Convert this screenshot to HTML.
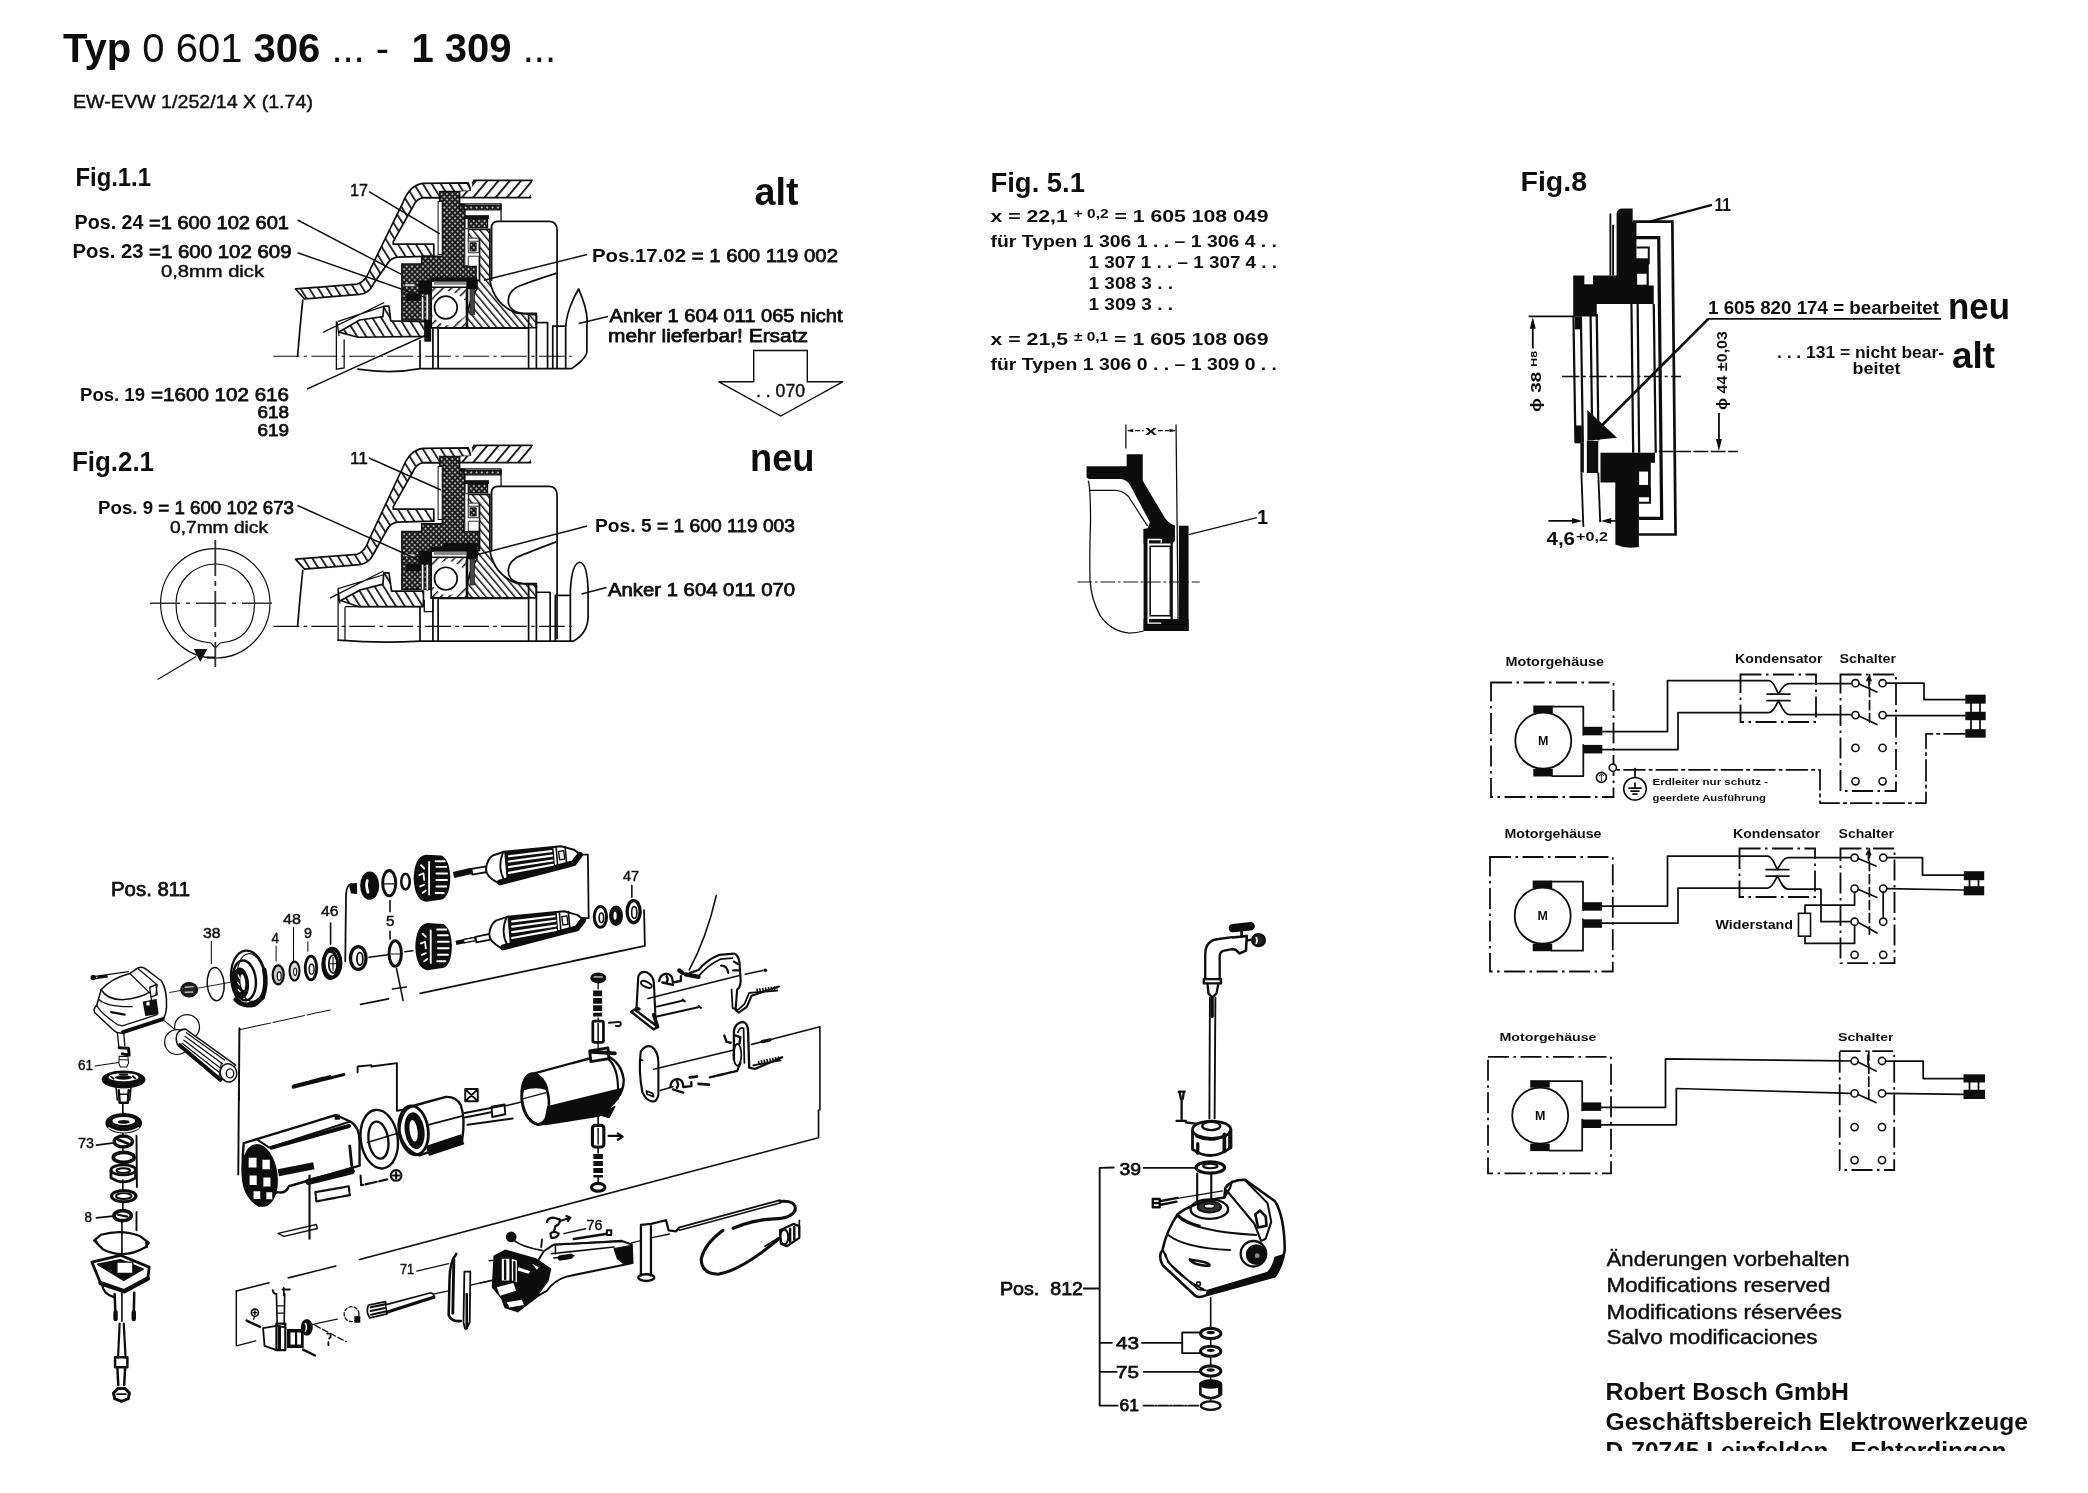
<!DOCTYPE html>
<html><head><meta charset="utf-8"><title>Typ 0 601 306</title>
<style>
html,body{margin:0;padding:0;background:#fff;}
body{width:2088px;height:1493px;overflow:hidden;font-family:"Liberation Sans",sans-serif;}
svg{display:block;position:absolute;left:0;top:0;}
text{font-family:"Liberation Sans",sans-serif;fill:#111;}
.b{font-weight:bold;}
.m{stroke:#111;stroke-width:0.45;}
.n{font-weight:normal;stroke:#111;stroke-width:0.75;}
.l{fill:none;stroke:#111;stroke-width:1.75;stroke-linecap:round;stroke-linejoin:round;}
.t{fill:none;stroke:#111;stroke-width:0.9;}
.k{fill:#111;stroke:none;}
.w{fill:#fff;stroke:#111;stroke-width:1.6;}
.dd{fill:none;stroke:#111;stroke-width:1.8;stroke-dasharray:21 4.5 2.5 4.5;}
</style></head><body>
<svg width="2088" height="1493" viewBox="0 0 2088 1493">
<defs>
<filter id="soft" x="0" y="0" width="100%" height="100%"><feGaussianBlur stdDeviation="0.55"/></filter>
<pattern id="hA" width="44" height="44" patternUnits="userSpaceOnUse" patternTransform="rotate(-32)"><rect width="44" height="44" fill="#fff"/><line x1="5" y1="0" x2="5" y2="44" stroke="#111" stroke-width="10"/></pattern>
<pattern id="hB" width="50" height="50" patternUnits="userSpaceOnUse" patternTransform="rotate(40)"><rect width="50" height="50" fill="#fff"/><line x1="5" y1="0" x2="5" y2="50" stroke="#111" stroke-width="11"/></pattern>
<pattern id="hC" width="32" height="32" patternUnits="userSpaceOnUse" patternTransform="rotate(-40)"><rect width="32" height="32" fill="#fff"/><line x1="4" y1="0" x2="4" y2="32" stroke="#111" stroke-width="9"/></pattern>
<pattern id="hD" width="34" height="34" patternUnits="userSpaceOnUse" patternTransform="rotate(45)"><rect width="34" height="34" fill="#fff"/><line x1="4" y1="0" x2="4" y2="34" stroke="#111" stroke-width="9"/></pattern>
<pattern id="xz" width="22" height="22" patternUnits="userSpaceOnUse" patternTransform="rotate(45)"><rect width="22" height="22" fill="#1a1a1a"/><rect x="5" y="5" width="11" height="11" rx="3" fill="#c8c8c8"/></pattern>

</defs>
<g filter="url(#soft)">
<g id="text">
<text x="63" y="62" font-size="40" textLength="493" lengthAdjust="spacingAndGlyphs" xml:space="preserve"><tspan class="b">Typ</tspan> 0 601 <tspan class="b">306</tspan> ... -  <tspan class="b">1 309</tspan> ...</text>
<text x="73" y="107.8" font-size="18.5" class="m" textLength="240.0" lengthAdjust="spacingAndGlyphs" xml:space="preserve">EW-EVW 1/252/14 X (1.74)</text>
<text x="75.5" y="185.5" font-size="26" class="b" textLength="75.5" lengthAdjust="spacingAndGlyphs" xml:space="preserve">Fig.1.1</text>
<text x="74.5" y="229" font-size="20" class="b" textLength="69.0" lengthAdjust="spacingAndGlyphs" xml:space="preserve">Pos. 24</text>
<text x="149" y="229" font-size="18" class="n" textLength="140.0" lengthAdjust="spacingAndGlyphs" xml:space="preserve">=1 600 102 601</text>
<text x="72.5" y="258" font-size="20" class="b" textLength="71.0" lengthAdjust="spacingAndGlyphs" xml:space="preserve">Pos. 23</text>
<text x="149" y="258" font-size="18" class="n" textLength="142.5" lengthAdjust="spacingAndGlyphs" xml:space="preserve">=1 600 102 609</text>
<text x="161" y="277" font-size="17" class="m" textLength="103.0" lengthAdjust="spacingAndGlyphs" xml:space="preserve">0,8mm dick</text>
<text x="80" y="401" font-size="19" class="b" textLength="65.0" lengthAdjust="spacingAndGlyphs" xml:space="preserve">Pos. 19</text>
<text x="151" y="401" font-size="18" class="n" textLength="138.0" lengthAdjust="spacingAndGlyphs" xml:space="preserve">=1600 102 616</text>
<text x="257.5" y="418" font-size="17" class="n" textLength="31.5" lengthAdjust="spacingAndGlyphs" xml:space="preserve">618</text>
<text x="257.5" y="435.5" font-size="17" class="n" textLength="31.5" lengthAdjust="spacingAndGlyphs" xml:space="preserve">619</text>
<text x="72" y="471" font-size="27" class="b" textLength="82.0" lengthAdjust="spacingAndGlyphs" xml:space="preserve">Fig.2.1</text>
<text x="350" y="196" font-size="16" class="m" textLength="18.0" lengthAdjust="spacingAndGlyphs" xml:space="preserve">17</text>
<text x="350" y="464" font-size="16" class="m" textLength="18.0" lengthAdjust="spacingAndGlyphs" xml:space="preserve">11</text>
<text x="754.5" y="205" font-size="38" class="b" textLength="44.0" lengthAdjust="spacingAndGlyphs" xml:space="preserve">alt</text>
<text x="750" y="470.5" font-size="38" class="b" textLength="64.5" lengthAdjust="spacingAndGlyphs" xml:space="preserve">neu</text>
<text x="592" y="262" font-size="19" class="b" textLength="246.0" lengthAdjust="spacingAndGlyphs" xml:space="preserve">Pos.17.02 <tspan class="n">= 1 600 119 002</tspan></text>
<text x="609.5" y="322" font-size="18" class="n" textLength="233.0" lengthAdjust="spacingAndGlyphs" xml:space="preserve">Anker 1 604 011 065 nicht</text>
<text x="608" y="342" font-size="18" class="n" textLength="200.0" lengthAdjust="spacingAndGlyphs" xml:space="preserve">mehr lieferbar! Ersatz</text>
<text x="756" y="397" font-size="18" class="m" textLength="49.0" lengthAdjust="spacingAndGlyphs" xml:space="preserve">. . 070</text>
<text x="98" y="513.5" font-size="18" class="b" textLength="196.0" lengthAdjust="spacingAndGlyphs" xml:space="preserve">Pos. 9 <tspan class="n">= 1 600 102 673</tspan></text>
<text x="170" y="533" font-size="17" class="m" textLength="98.0" lengthAdjust="spacingAndGlyphs" xml:space="preserve">0,7mm dick</text>
<text x="595" y="532" font-size="19" class="b" textLength="200.0" lengthAdjust="spacingAndGlyphs" xml:space="preserve">Pos. 5 <tspan class="n">= 1 600 119 003</tspan></text>
<text x="608" y="596" font-size="18" class="n" textLength="187.0" lengthAdjust="spacingAndGlyphs" xml:space="preserve">Anker 1 604 011 070</text>
<text x="990.5" y="191.5" font-size="27" class="b" textLength="94.5" lengthAdjust="spacingAndGlyphs" xml:space="preserve">Fig. 5.1</text>
<text x="990.5" y="221.5" font-size="16.5" class="b" textLength="278.0" lengthAdjust="spacingAndGlyphs" xml:space="preserve">x = 22,1 <tspan font-size="12" dy="-4">+ 0,2</tspan><tspan dy="4"> = 1 605 108 049</tspan></text>
<text x="990.5" y="247" font-size="16.5" class="b" textLength="286.5" lengthAdjust="spacingAndGlyphs" xml:space="preserve">für Typen 1 306 1 . . – 1 306 4 . .</text>
<text x="1088.5" y="268" font-size="16.5" class="b" textLength="188.5" lengthAdjust="spacingAndGlyphs" xml:space="preserve">1 307 1 . . – 1 307 4 . .</text>
<text x="1088.5" y="289" font-size="16.5" class="b" textLength="84.5" lengthAdjust="spacingAndGlyphs" xml:space="preserve">1 308 3 . .</text>
<text x="1088.5" y="309.5" font-size="16.5" class="b" textLength="84.5" lengthAdjust="spacingAndGlyphs" xml:space="preserve">1 309 3 . .</text>
<text x="990.5" y="344.5" font-size="16.5" class="b" textLength="278.0" lengthAdjust="spacingAndGlyphs" xml:space="preserve">x = 21,5 <tspan font-size="12" dy="-4">± 0,1</tspan><tspan dy="4"> = 1 605 108 069</tspan></text>
<text x="990.5" y="369.5" font-size="16.5" class="b" textLength="286.5" lengthAdjust="spacingAndGlyphs" xml:space="preserve">für Typen 1 306 0 . . – 1 309 0 . .</text>
<text x="1145" y="435" font-size="13" class="b" textLength="12.0" lengthAdjust="spacingAndGlyphs" xml:space="preserve">x</text>
<text x="1257" y="523.5" font-size="20" class="b" xml:space="preserve">1</text>
<text x="1520.5" y="190.5" font-size="27" class="b" textLength="66.5" lengthAdjust="spacingAndGlyphs" xml:space="preserve">Fig.8</text>
<text x="1714.5" y="210.5" font-size="18" class="b" textLength="16.5" lengthAdjust="spacingAndGlyphs" xml:space="preserve">11</text>
<text x="1708" y="313.5" font-size="17.5" class="b" textLength="231.0" lengthAdjust="spacingAndGlyphs" xml:space="preserve">1 605 820 174 = bearbeitet</text>
<text x="1948" y="319" font-size="37" class="b" textLength="62.0" lengthAdjust="spacingAndGlyphs" xml:space="preserve">neu</text>
<text x="1777" y="357.5" font-size="17" class="b" textLength="167.0" lengthAdjust="spacingAndGlyphs" xml:space="preserve">. . . 131 = nicht bear-</text>
<text x="1852.5" y="374" font-size="17" class="b" textLength="48.0" lengthAdjust="spacingAndGlyphs" xml:space="preserve">beitet</text>
<text x="1952" y="367.5" font-size="37" class="b" textLength="43.0" lengthAdjust="spacingAndGlyphs" xml:space="preserve">alt</text>
<text x="1546.5" y="544.5" font-size="18" class="b" textLength="28.5" lengthAdjust="spacingAndGlyphs" xml:space="preserve">4,6</text>
<text x="1576" y="541" font-size="13" class="b" textLength="32.0" lengthAdjust="spacingAndGlyphs" xml:space="preserve">+0,2</text>
<text x="1505.5" y="666" font-size="12.5" class="b" textLength="98.5" lengthAdjust="spacingAndGlyphs" xml:space="preserve">Motorgehäuse</text>
<text x="1735" y="663" font-size="12.5" class="b" textLength="87.5" lengthAdjust="spacingAndGlyphs" xml:space="preserve">Kondensator</text>
<text x="1839.5" y="663" font-size="12.5" class="b" textLength="56.5" lengthAdjust="spacingAndGlyphs" xml:space="preserve">Schalter</text>
<text x="1652.5" y="785" font-size="8.5" class="b" textLength="115.5" lengthAdjust="spacingAndGlyphs" xml:space="preserve">Erdleiter nur schutz -</text>
<text x="1652.5" y="801" font-size="8.5" class="b" textLength="113.5" lengthAdjust="spacingAndGlyphs" xml:space="preserve">geerdete Ausführung</text>
<text x="1504.5" y="838" font-size="12.5" class="b" textLength="97.0" lengthAdjust="spacingAndGlyphs" xml:space="preserve">Motorgehäuse</text>
<text x="1733" y="837.5" font-size="12.5" class="b" textLength="87.0" lengthAdjust="spacingAndGlyphs" xml:space="preserve">Kondensator</text>
<text x="1838.5" y="837.5" font-size="12.5" class="b" textLength="55.5" lengthAdjust="spacingAndGlyphs" xml:space="preserve">Schalter</text>
<text x="1715.5" y="929" font-size="12" class="b" textLength="77.5" lengthAdjust="spacingAndGlyphs" xml:space="preserve">Widerstand</text>
<text x="1499.5" y="1040.5" font-size="11.5" class="b" textLength="97.0" lengthAdjust="spacingAndGlyphs" xml:space="preserve">Motorgehäuse</text>
<text x="1838" y="1040.5" font-size="11.5" class="b" textLength="55.5" lengthAdjust="spacingAndGlyphs" xml:space="preserve">Schalter</text>
<text x="111" y="895.5" font-size="21" class="n" textLength="79.0" lengthAdjust="spacingAndGlyphs" xml:space="preserve">Pos. 811</text>
<text x="203" y="937.5" font-size="14.5" class="m" textLength="17.5" lengthAdjust="spacingAndGlyphs" xml:space="preserve">38</text>
<text x="271.5" y="943" font-size="14.5" class="m" textLength="7.5" lengthAdjust="spacingAndGlyphs" xml:space="preserve">4</text>
<text x="283" y="923.5" font-size="14.5" class="m" textLength="18.0" lengthAdjust="spacingAndGlyphs" xml:space="preserve">48</text>
<text x="304" y="938" font-size="14.5" class="m" textLength="8.0" lengthAdjust="spacingAndGlyphs" xml:space="preserve">9</text>
<text x="321" y="916" font-size="14.5" class="m" textLength="17.5" lengthAdjust="spacingAndGlyphs" xml:space="preserve">46</text>
<text x="386" y="926" font-size="14.5" class="m" textLength="8.5" lengthAdjust="spacingAndGlyphs" xml:space="preserve">5</text>
<text x="78" y="1069.5" font-size="14.5" class="m" textLength="15.0" lengthAdjust="spacingAndGlyphs" xml:space="preserve">61</text>
<text x="78" y="1148" font-size="14.5" class="m" textLength="16.0" lengthAdjust="spacingAndGlyphs" xml:space="preserve">73</text>
<text x="84.5" y="1222" font-size="14.5" class="m" textLength="7.5" lengthAdjust="spacingAndGlyphs" xml:space="preserve">8</text>
<text x="400" y="1274" font-size="14.5" class="m" textLength="14.0" lengthAdjust="spacingAndGlyphs" xml:space="preserve">71</text>
<text x="623" y="881" font-size="14.5" class="m" textLength="16.0" lengthAdjust="spacingAndGlyphs" xml:space="preserve">47</text>
<text x="586.5" y="1229.5" font-size="14.5" class="m" textLength="16.0" lengthAdjust="spacingAndGlyphs" xml:space="preserve">76</text>
<text x="1000" y="1294.5" font-size="19" class="n" textLength="83.0" lengthAdjust="spacingAndGlyphs" xml:space="preserve">Pos.  812</text>
<text x="1119.5" y="1175" font-size="17" class="n" textLength="21.5" lengthAdjust="spacingAndGlyphs" xml:space="preserve">39</text>
<text x="1116" y="1348.5" font-size="17" class="n" textLength="23.0" lengthAdjust="spacingAndGlyphs" xml:space="preserve">43</text>
<text x="1116" y="1377.5" font-size="17" class="n" textLength="23.0" lengthAdjust="spacingAndGlyphs" xml:space="preserve">75</text>
<text x="1119.5" y="1411" font-size="17" class="n" textLength="19.5" lengthAdjust="spacingAndGlyphs" xml:space="preserve">61</text>
<text x="1606.5" y="1266" font-size="20.5" class="m" textLength="243.0" lengthAdjust="spacingAndGlyphs" xml:space="preserve">Änderungen vorbehalten</text>
<text x="1606.5" y="1291.5" font-size="20.5" class="m" textLength="224.0" lengthAdjust="spacingAndGlyphs" xml:space="preserve">Modifications reserved</text>
<text x="1606.5" y="1318.5" font-size="20.5" class="m" textLength="235.5" lengthAdjust="spacingAndGlyphs" xml:space="preserve">Modifications réservées</text>
<text x="1606.5" y="1344" font-size="20.5" class="m" textLength="211.0" lengthAdjust="spacingAndGlyphs" xml:space="preserve">Salvo modificaciones</text>
<text x="1605.5" y="1399.5" font-size="24" class="b" textLength="243.5" lengthAdjust="spacingAndGlyphs" xml:space="preserve">Robert Bosch GmbH</text>
<text x="1605.5" y="1430" font-size="24" class="b" textLength="422.5" lengthAdjust="spacingAndGlyphs" xml:space="preserve">Geschäftsbereich Elektrowerkzeuge</text>
<clipPath id="cf"><rect x="1590" y="1430" width="480" height="21"/></clipPath>
<g clip-path="url(#cf)"><text x="1605.5" y="1458.5" font-size="24" class="b" textLength="401" lengthAdjust="spacingAndGlyphs">D-70745 Leinfelden - Echterdingen</text></g>
</g>
<g id="fig1">
<g transform="translate(270,170) scale(0.17241)">
<path d="M 1285,335 Q 1285,300 1320,298 H 1620 Q 1665,300 1665,350 V 1150" fill="none" stroke="#111" stroke-width="10" stroke-linejoin="round" stroke-linecap="round"/>
<path d="M 1285,335 V 640" fill="none" stroke="#111" stroke-width="10" stroke-linejoin="round" stroke-linecap="round"/>
<path d="M 1660,600 Q 1500,650 1430,680 Q 1370,720 1385,780 Q 1400,825 1470,832 H 1545" fill="none" stroke="#111" stroke-width="10" stroke-linejoin="round" stroke-linecap="round"/>
<path d="M 148,690 L 505,662 Q 550,650 575,590 L 770,190 Q 810,90 885,78 L 1150,75 L 1165,122 L 1100,125 L 1100,162 L 890,160 Q 850,165 830,210 L 715,415 L 715,430 L 950,430 L 950,500 L 740,505 Q 700,510 680,545 L 600,660 Q 575,715 520,722 L 200,748 Z" fill="url(#hA)" stroke="#111" stroke-width="10" stroke-linejoin="round" stroke-linecap="round"/>
<path d="M 1175,75 L 1185,60 L 1520,60 L 1512,160 L 1100,160 L 1100,125 L 1165,122 Z" fill="url(#hB)" stroke="none"/>
<path d="M 1175,75 L 1185,60 L 1520,60 M 1512,160 L 1100,160" fill="none" stroke="#111" stroke-width="10" stroke-linejoin="round" stroke-linecap="round"/>
<path d="M 190,755 Q 175,900 160,1078" fill="none" stroke="#111" stroke-width="10" stroke-linejoin="round" stroke-linecap="round"/>
<path d="M 985,125 H 1100 V 200 H 1130 V 505 H 1125 V 560 H 1195 V 640 H 935 V 870 H 765 V 545 H 880 V 500 H 1000 V 180 H 985 Z" fill="url(#xz)" stroke="#111" stroke-width="9" stroke-linejoin="miter"/>
<rect x="975" y="182" width="24" height="308" fill="#fff" stroke="#111" stroke-width="6"/>
<path d="M 930,622 H 1200 V 644 H 930 Z" fill="#111" />
<path d="M 862,640 H 936 V 725 H 862 Z" fill="#111" />
<path d="M 790,715 H 880 V 760 H 790 Z" fill="#111" />
<path d="M 878,720 H 892 V 870 H 878 Z" fill="#fff" stroke="#111" stroke-width="4"/>
<path d="M 905,720 H 919 V 870 H 905 Z" fill="#fff" stroke="#111" stroke-width="4"/>
<path d="M 782,660 H 842 V 676 H 782 Z" fill="#ddd" stroke="#111" stroke-width="4"/>
<path d="M 1100,197 H 1340 V 295" fill="none" stroke="#111" stroke-width="7.5" stroke-linecap="round"/>
<path d="M 1100,205 H 1340 V 231 H 1100 Z" fill="url(#xz)" stroke="#111" stroke-width="7"/>
<path d="M 1130,262 H 1270 V 284 H 1130 Z" fill="#111" />
<path d="M 1150,284 H 1262 V 334 H 1150 Z" fill="url(#xz)" stroke="#111" stroke-width="7"/>
<path d="M 1150,345 H 1275 V 640 Q 1300,780 1430,830 L 1545,840 V 915 H 1140 V 870 Q 1150,760 1200,690 L 1200,640 H 1215 V 400 H 1150 Z" fill="url(#hC)" stroke="#111" stroke-width="10" stroke-linejoin="round" stroke-linecap="round"/>
<path d="M 1130,340 V 555 H 1150 V 500 H 1215 V 480 H 1150 V 340 Z" fill="#fff" stroke="#111" stroke-width="5"/>
<path d="M 1150,395 H 1212 V 413 H 1150 Z" fill="#fff" stroke="#111" stroke-width="5"/>
<path d="M 1160,422 H 1196 V 470 H 1160 Z" fill="url(#xz)" stroke="#111" stroke-width="5"/>
<path d="M 935,644 H 1145 V 915 H 935 Z" fill="#fff" stroke="#111" stroke-width="10" stroke-linejoin="round" stroke-linecap="round"/>
<path d="M 950,646 H 1140 V 666 H 950 Z" fill="#8a8a8a" />
<path d="M 935,680 H 1145" fill="none" stroke="#111" stroke-width="10" stroke-linejoin="round" stroke-linecap="round"/>
<path d="M 940,685 H 1135 V 760 Q 1020,640 940,760 Z" fill="url(#hD)" stroke="none"/>
<path d="M 940,915 H 1140 V 840 Q 1020,960 940,840 Z" fill="url(#hD)" stroke="none"/>
<path d="M 1140,625 H 1202 V 691 H 1140 Z" fill="#111" />
<path d="M 1160,690 H 1186 V 840 H 1160 Z" fill="#444" stroke="#111" stroke-width="4"/>
<circle cx="1020" cy="798" r="66" fill="#fff" stroke="#111" stroke-width="10" stroke-linejoin="round" stroke-linecap="round"/>
<path d="M 1140,690 V 915 M 935,915 H 1145" fill="none" stroke="#111" stroke-width="10" stroke-linejoin="round" stroke-linecap="round"/>
<path d="M 520,870 L 655,850 L 660,790 L 690,790 L 700,875 L 900,880 L 900,965 L 510,970 L 400,940 Z" fill="url(#hA)" stroke="#111" stroke-width="10" stroke-linejoin="round" stroke-linecap="round"/>
<path d="M 895,870 H 935 V 996 H 895 Z" fill="#111" />
<path d="M 310,940 L 660,770 M 395,878 L 655,792 M 390,885 L 400,960 M 385,880 V 1155 L 430,1148 V 985" fill="none" stroke="#111" stroke-width="7.5" stroke-linecap="round"/>
<path d="M 20,1080 H 1750" fill="none" stroke="#111" stroke-width="6" stroke-dasharray="150 25 20 25"/>
<path d="M 870,990 V 1150 M 945,920 V 1150 M 975,920 V 1150 M 975,917 H 1500 M 1500,842 V 1150 M 1545,842 V 1150 M 1545,885 H 1610 V 1150 M 1640,905 V 1150 M 1640,905 H 1715 V 1150" fill="none" stroke="#111" stroke-width="10" stroke-linejoin="round" stroke-linecap="round"/>
<path d="M 510,1155 Q 700,1185 870,1152 H 1750 Q 1840,1090 1838,1050 V 900 Q 1850,830 1790,690 Q 1725,800 1715,905" fill="none" stroke="#111" stroke-width="10" stroke-linejoin="round" stroke-linecap="round"/>
</g>
<path class="t" d="M369,191.6 L439.8,233.8 M297.6,220 L402.8,275.2 M297.6,252.8 L426,297.6 M587.2,254.5 L483.8,280.3 M608,316.6 L578.6,323.4 M307,389 L425.2,335.5" style="stroke-width:1.5"/>
<path d="M753.7,350.5 H807.3 V381.7 H843 L780.8,416 L718.5,381.7 H753.7 Z" fill="none" stroke="#111" stroke-width="1.4" stroke-linejoin="miter"/>
</g>
<g id="fig2">
<g transform="translate(270,435) scale(0.17241)">
<path d="M 1285,335 Q 1285,300 1320,298 H 1620 Q 1665,300 1665,350 V 1180" fill="none" stroke="#111" stroke-width="10" stroke-linejoin="round" stroke-linecap="round"/>
<path d="M 1285,335 V 670" fill="none" stroke="#111" stroke-width="10" stroke-linejoin="round" stroke-linecap="round"/>
<path d="M 1660,620 Q 1500,680 1430,710 Q 1370,750 1385,810 Q 1400,855 1470,862 H 1545" fill="none" stroke="#111" stroke-width="10" stroke-linejoin="round" stroke-linecap="round"/>
<path d="M 148,720 L 505,692 Q 550,680 575,606.667 L 770,190 Q 810,90 885,78 L 1150,75 L 1165,122 L 1100,125 L 1100,162 L 890,160 Q 850,165 830,210 L 715,415 L 715,430 L 950,430 L 950,500 L 740,505 Q 700,510 680,546.667 L 600,690 Q 575,745 520,752 L 200,778 Z" fill="url(#hA)" stroke="#111" stroke-width="10" stroke-linejoin="round" stroke-linecap="round"/>
<path d="M 1175,75 L 1185,60 L 1520,60 L 1512,160 L 1100,160 L 1100,125 L 1165,122 Z" fill="url(#hB)" stroke="none"/>
<path d="M 1175,75 L 1185,60 L 1520,60 M 1512,160 L 1100,160" fill="none" stroke="#111" stroke-width="10" stroke-linejoin="round" stroke-linecap="round"/>
<path d="M 190,785 Q 175,930 160,1108" fill="none" stroke="#111" stroke-width="10" stroke-linejoin="round" stroke-linecap="round"/>
<path d="M985,125 H1100 V200 H1130 V505 H1125 V560 H1215 V680 H935 V895 H765 V560 H880 V515 H1000 V180 H985 Z" fill="url(#xz)" stroke="#111" stroke-width="9" stroke-linejoin="miter"/>
<rect x="1000" y="625" width="215" height="24" fill="#111"/>
<rect x="975" y="182" width="24" height="308" fill="#fff" stroke="#111" stroke-width="6"/>
<path d="M 930,649.333 H 1200 V 674 H 930 Z" fill="#111" />
<path d="M 862,670 H 936 V 755 H 862 Z" fill="#111" />
<path d="M 790,745 H 880 V 790 H 790 Z" fill="#111" />
<path d="M 878,750 H 892 V 900 H 878 Z" fill="#fff" stroke="#111" stroke-width="4"/>
<path d="M 905,750 H 919 V 900 H 905 Z" fill="#fff" stroke="#111" stroke-width="4"/>
<path d="M 782,690 H 842 V 706 H 782 Z" fill="#ddd" stroke="#111" stroke-width="4"/>
<path d="M 1100,197 H 1340 V 295" fill="none" stroke="#111" stroke-width="7.5" stroke-linecap="round"/>
<path d="M 1100,205 H 1340 V 231 H 1100 Z" fill="url(#xz)" stroke="#111" stroke-width="7"/>
<path d="M 1130,262 H 1270 V 284 H 1130 Z" fill="#111" />
<path d="M 1150,284 H 1262 V 334 H 1150 Z" fill="url(#xz)" stroke="#111" stroke-width="7"/>
<path d="M 1150,345 H 1275 V 670 Q 1300,810 1430,860 L 1545,870 V 945 H 1140 V 900 Q 1150,790 1200,720 L 1200,670 H 1215 V 400 H 1150 Z" fill="url(#hC)" stroke="#111" stroke-width="10" stroke-linejoin="round" stroke-linecap="round"/>
<path d="M 1130,340 V 560 H 1150 V 500 H 1215 V 480 H 1150 V 340 Z" fill="#fff" stroke="#111" stroke-width="5"/>
<path d="M 1150,395 H 1212 V 413 H 1150 Z" fill="#fff" stroke="#111" stroke-width="5"/>
<path d="M 1160,422 H 1196 V 470 H 1160 Z" fill="url(#xz)" stroke="#111" stroke-width="5"/>
<path d="M 935,674 H 1145 V 945 H 935 Z" fill="#fff" stroke="#111" stroke-width="10" stroke-linejoin="round" stroke-linecap="round"/>
<path d="M 950,676 H 1140 V 696 H 950 Z" fill="#8a8a8a" />
<path d="M 935,710 H 1145" fill="none" stroke="#111" stroke-width="10" stroke-linejoin="round" stroke-linecap="round"/>
<path d="M 940,715 H 1135 V 790 Q 1020,670 940,790 Z" fill="url(#hD)" stroke="none"/>
<path d="M 940,945 H 1140 V 870 Q 1020,990 940,870 Z" fill="url(#hD)" stroke="none"/>
<path d="M 1140,653.333 H 1202 V 721 H 1140 Z" fill="#111" />
<path d="M 1160,720 H 1186 V 870 H 1160 Z" fill="#444" stroke="#111" stroke-width="4"/>
<circle cx="1020" cy="833" r="66" fill="#fff" stroke="#111" stroke-width="10" stroke-linejoin="round" stroke-linecap="round"/>
<path d="M 1140,720 V 945 M 935,945 H 1145" fill="none" stroke="#111" stroke-width="10" stroke-linejoin="round" stroke-linecap="round"/>
<path d="M520,900 L655,865 L660,800 L690,800 L705,905 L890,905 L890,995 L510,995 L410,960 Z" fill="url(#hA)" stroke="#111" stroke-width="10" stroke-linejoin="round" stroke-linecap="round"/>
<path d="M350,945 L655,790 M400,890 L655,812 M395,895 L405,975 M395,890 V1190 M435,1000 V1190 M440,995 H870" fill="none" stroke="#111" stroke-width="7.5" stroke-linecap="round"/>
<path d="M895,960 V1025 H945 V960" fill="#fff" stroke="#111" stroke-width="7.5" stroke-linecap="round"/>
<path d="M 20,1110 H 1750" fill="none" stroke="#111" stroke-width="6" stroke-dasharray="150 25 20 25"/>
<path d="M870,995 V1195 M945,950 V1195 M975,950 V1195 M975,947 H1500 M1500,872 V1195 M1545,872 V1195 M1545,912 H1625 V1195 M1655,930 V1195 M1655,930 H1742" fill="none" stroke="#111" stroke-width="10" stroke-linejoin="round" stroke-linecap="round"/>
<path d="M395,1190 Q650,1210 870,1195 H1760 Q1845,1150 1845,1050 V900 Q1840,740 1795,738 Q1750,745 1742,905 V1195" fill="none" stroke="#111" stroke-width="10" stroke-linejoin="round" stroke-linecap="round"/>
</g>
<path class="t" d="M369,458 L441,490 M297.5,505.5 L421,561 M587,526 L472,556 M606.5,587.5 L581.5,594" style="stroke-width:1.5"/>
<g fill="none" stroke="#111" stroke-width="1.2">
<circle cx="215.3" cy="603.3" r="54.7"/>
<path d="M215.3,647.8 L211,643 Q176,641 176,603.3 A39.3,39.3 0 1 1 254.6,603.3 Q254,641 220,643 Z"/>
<path d="M215.3,540 V667" stroke-width="1.8" stroke-dasharray="36 5 5 5" stroke="#333"/>
<path d="M150,603.3 H277" stroke-width="1.6" stroke-dasharray="30 6 4 6" stroke="#333"/>
<path d="M193.7,649 H207.3 L200.3,662 Z" fill="#111" stroke="none"/>
<path d="M157.6,679.6 L196.2,656.5"/>
<path d="M207,657.5 H215" stroke-width="2"/>
</g>
</g>
<g id="fig5">
<g transform="translate(1060,410) scale(0.16072)">
<path d="M165,350 H415 V275 H515 V440 L655,675 Q685,712 715,718 V815 Q700,830 690,830 H520 V740 L545,735 L560,700 L440,475 Q420,435 380,430 H180 L165,420 Z" fill="#111"/>
<rect x="740" y="720" width="60" height="655" fill="#111"/>
<rect x="520" y="1300" width="280" height="75" fill="#111"/>
<rect x="520" y="740" width="30" height="635" fill="#111"/>
<rect x="688" y="820" width="14" height="490" fill="#111"/>
<path d="M630,826 V806 H549 V1326 H630" fill="none" stroke="#fff" stroke-width="9"/>
<rect x="561" y="848" width="126" height="432" fill="#fff" stroke="#111" stroke-width="10"/>
<path d="M175,440 Q190,470 190,700 Q183,900 187,1060 Q195,1180 250,1280 Q320,1380 430,1388 Q480,1388 520,1375" fill="none" stroke="#111" stroke-width="8"/>
<path d="M183,500 H350 Q410,505 440,560 L545,722" fill="none" stroke="#111" stroke-width="8"/>
<path d="M410,90 V240 M722,90 L735,1300" fill="none" stroke="#111" stroke-width="8"/>
<path d="M425,128 H520 M610,128 H715" fill="none" stroke="#111" stroke-width="7" stroke-dasharray="30 12"/>
<path d="M415,128 L455,118 V138 Z M722,128 L682,118 V138 Z" fill="#111"/>
<path d="M110,1070 H870" fill="none" stroke="#111" stroke-width="7" stroke-dasharray="90 18 16 18"/>
<path d="M800,775 L1225,670" fill="none" stroke="#111" stroke-width="8"/>
</g>

</g>
<g id="fig8">
<g transform="translate(1510,190) scale(0.24785)">
<g>
<!-- covers -->
<path d="M495,128 H655 L668,1390 H515" fill="none" stroke="#111" stroke-width="11"/>
<path d="M500,192 H600 L612,1325 H520" fill="none" stroke="#111" stroke-width="13"/>
<path d="M510,232 H560 V300 M520,1262 H565 V1200" fill="none" stroke="#111" stroke-width="8"/>
<!-- thin plate left of bar -->
<path d="M405,95 V345 M416,140 V345" fill="none" stroke="#111" stroke-width="7.5"/>
<!-- upper black -->
<path d="M430,95 Q432,75 455,75 H495 V130 H510 V275 H560 V385 H580 V460 H350 V510 H255 V345 H300 V380 H335 V345 H430 Z" fill="#111"/>
<rect x="513" y="338" width="38" height="44" fill="#fff"/>
<!-- lower black -->
<path d="M365,1060 H585 V1100 H568 V1240 H520 V1440 Q470,1450 425,1430 V1180 H365 Z" fill="#111"/>
<rect x="521" y="1136" width="36" height="54" fill="#fff"/>
<rect x="310" y="1012" width="46" height="130" fill="#111"/>
<rect x="284" y="1020" width="14" height="120" fill="#111"/>
<!-- middle vertical lines -->
<path d="M256,510 L264,1020 M286,510 L294,1020" fill="none" stroke="#111" stroke-width="9"/>
<rect x="262" y="510" width="26" height="52" fill="#111"/>
<rect x="262" y="950" width="28" height="72" fill="#111"/>
<path d="M325,500 L332,1010 M350,500 L357,1010 M490,460 L497,1060 M515,460 L521,1060 M580,460 L588,1060" fill="none" stroke="#111" stroke-width="9"/>
<!-- ext lines for 4,6 -->
<path d="M288,1140 L296,1360 M356,1140 L364,1340 M430,1200 V1340" fill="none" stroke="#111" stroke-width="7.5"/>
</g>
<!-- centerline -->
<path d="M210,752 H690" fill="none" stroke="#111" stroke-width="6" stroke-dasharray="70 14 12 14"/>
<!-- dim 38 -->
<path d="M75,510 H262 M92,530 V640" fill="none" stroke="#111" stroke-width="7.5"/>
<path d="M92,512 L80,560 H104 Z" fill="#111"/>
<!-- dim 44 -->
<path d="M600,1055 H920" fill="none" stroke="#111" stroke-width="6" stroke-dasharray="60 10"/>
<path d="M843,900 V1030" fill="none" stroke="#111" stroke-width="7.5"/>
<path d="M843,1053 L831,1005 H855 Z" fill="#111"/>
<!-- big arrow -->
<path d="M800,520 L372,948" fill="none" stroke="#111" stroke-width="11"/>
<path d="M312,888 V1012 L432,1000 Z" fill="#111"/>
<!-- 4,6 dim arrows -->
<path d="M155,1335 H270 M400,1335 H480" fill="none" stroke="#111" stroke-width="7.5"/>
<path d="M292,1335 L250,1323 V1347 Z M366,1335 L408,1323 V1347 Z" fill="#111"/>
<!-- 11 leader -->
<path d="M560,128 L815,60" fill="none" stroke="#111" stroke-width="9"/>
</g>
<path d="M1708,318.8 H1941" stroke="#111" stroke-width="1.8" fill="none"/>
<text transform="translate(1540.5,412) rotate(-90)" font-size="14.5" class="b" textLength="61" lengthAdjust="spacingAndGlyphs">ϕ 38 <tspan font-size="9.5" dy="-4">H8</tspan></text>
<text transform="translate(1727,410) rotate(-90)" font-size="15.5" class="b" textLength="79" lengthAdjust="spacingAndGlyphs">ϕ 44 ±0,03</text>

</g>
<g id="wiring">
<rect class="dd" x="1491" y="682.5" width="122.5" height="114.5"/>
<rect class="k" x="1533.3" y="705.5" width="19.5" height="7.5"/>
<rect class="k" x="1533.3" y="769.0" width="19.5" height="7.5"/>
<circle cx="1543.3" cy="740.7" r="28" fill="#fff" stroke="#111" stroke-width="1.8"/>
<text x="1543.3" y="745.2" font-size="12.5" class="b" text-anchor="middle">M</text>
<path class="l" d="M1552.3,706.5 H1583.3 V734.8 M1552.3,776 H1583.3 V744.9" />
<rect class="k" x="1583.3" y="726.8" width="19.0" height="8.5"/>
<rect class="k" x="1583.3" y="744.9" width="19.0" height="8.5"/>
<path class="l" d="M1602,731.5 H1667.5 V680.5 H1769 C1774,681 1776,690 1778.5,694 C1781,689 1784,683.5 1789,683.5 H1851.5" />
<path class="l" d="M1602,749.5 H1678 V712.7 H1769 C1774,712 1776,705 1778.5,700.7 C1781,705 1784,714.5 1789,714.5 H1851.5" />
<path class="l" d="M1767,694 H1790 M1767,700.7 H1790" stroke-width="1.6"/>
<rect class="dd" x="1740.5" y="674.5" width="75.5" height="47.5"/>
<rect class="dd" x="1840.5" y="674.5" width="55.5" height="116.5"/>
<path class="l" d="M1869.55,674.5 V722" stroke-dasharray="9 4"/>
<circle class="w" cx="1855.5" cy="683.2" r="3.6"/>
<circle class="w" cx="1882.6" cy="683.2" r="3.6"/>
<circle class="w" cx="1855.5" cy="715.1" r="3.6"/>
<circle class="w" cx="1882.6" cy="715.1" r="3.6"/>
<circle class="w" cx="1855.5" cy="747.9" r="3.6"/>
<circle class="w" cx="1882.6" cy="747.9" r="3.6"/>
<circle class="w" cx="1855.5" cy="781.3" r="3.6"/>
<circle class="w" cx="1882.6" cy="781.3" r="3.6"/>
<path class="l" d="M1859,684 L1877,692 M1869,678 V686 M1859,716 L1877,724.5" />
<path class="l" d="M1867,680.5 L1869,677 L1871,680.5" />
<path class="l" d="M1886.5,683.2 H1924 V699.5 H1965 M1886.5,715.5 H1965" />
<path class="l" d="M1965,733.8 H1926 V803 H1820 V769.8 H1617" stroke-dasharray="21 4.5 2.5 4.5"/>
<circle class="w" cx="1612.8" cy="767.7" r="3.6"/>
<path class="l" d="M1635,768.5 V783" />
<circle class="w" cx="1635.0" cy="788.8" r="11.3"/>
<path class="l" d="M1629,788 H1641 M1631,791 H1639 M1633,794 H1637 M1635,783 V788" />
<circle class="w" cx="1601.4" cy="777.4" r="5"/>
<path class="t" d="M1601.4,774 V781 M1599,776 L1601.4,774 L1604,776" />
<rect class="k" x="1965.3" y="694.7" width="20.4" height="9.0"/>
<rect class="k" x="1965.3" y="711.8" width="20.4" height="8.4"/>
<rect class="k" x="1965.3" y="729.2" width="20.4" height="8.5"/>
<path class="l" d="M1971,703 V730 M1980,703 V730" />
<rect class="dd" x="1490" y="857" width="122.79999999999995" height="114.5"/>
<rect class="k" x="1532.7" y="880.5" width="19.5" height="7.5"/>
<rect class="k" x="1532.7" y="943.7" width="19.5" height="7.5"/>
<circle cx="1542.7" cy="915.7" r="28" fill="#fff" stroke="#111" stroke-width="1.8"/>
<text x="1542.7" y="920.2" font-size="12.5" class="b" text-anchor="middle">M</text>
<path class="l" d="M1551.7,881.5 H1583 V910.2 M1551.7,950.7 H1583 V919.3" />
<rect class="k" x="1583.0" y="902.2" width="19.0" height="8.5"/>
<rect class="k" x="1583.0" y="919.3" width="19.0" height="8.5"/>
<path class="l" d="M1601.5,906 H1667.5 V856.2 H1768 C1773,857 1775,866 1777.5,869.5 C1780,865 1783,857.7 1788,857.7 H1851" />
<path class="l" d="M1601.5,923.2 H1678 V888 H1768 C1773,887 1775,880 1777.5,876 C1780,881 1783,889 1788,889 H1821 V921.7 H1851" />
<path class="l" d="M1766,869.5 H1789 M1766,876 H1789" stroke-width="1.6"/>
<rect class="dd" x="1739.5" y="848.5" width="75.5" height="48.5"/>
<rect class="dd" x="1840.5" y="848.5" width="54.0" height="114.70000000000005"/>
<path class="l" d="M1869.4,848.5 V934" stroke-dasharray="9 4"/>
<circle class="w" cx="1854.6" cy="857.7" r="3.6"/>
<circle class="w" cx="1883.2" cy="857.7" r="3.6"/>
<circle class="w" cx="1854.6" cy="888.6" r="3.6"/>
<circle class="w" cx="1883.2" cy="888.6" r="3.6"/>
<circle class="w" cx="1854.6" cy="921.7" r="3.6"/>
<circle class="w" cx="1883.2" cy="921.7" r="3.6"/>
<circle class="w" cx="1854.6" cy="954.8" r="3.6"/>
<circle class="w" cx="1883.2" cy="954.8" r="3.6"/>
<path class="l" d="M1858,858.5 L1876,866 M1868.5,852 V860 M1858.5,889.5 L1877,897.5 M1858.5,922.5 L1877,933" />
<path class="l" d="M1866.5,854.5 L1868.5,851 L1870.5,854.5" />
<path class="l" d="M1854.6,892.2 V905.2 H1805 V913.3 M1805,936.2 V943.4 H1854.6 V925.3" />
<rect class="w" x="1798.5" y="913.3" width="12.0" height="22.9"/>
<path class="l" d="M1883.2,892.2 V918" />
<path class="l" d="M1887,857.7 H1922.5 V875 H1964 M1887,888.6 L1964,890" />
<rect class="k" x="1963.8" y="871.2" width="20.4" height="9.0"/>
<rect class="k" x="1963.8" y="886.2" width="20.4" height="9.1"/>
<path class="l" d="M1969.5,880 V887 M1978.5,880 V887" />
<rect class="dd" x="1488" y="1056.8" width="123" height="116.5"/>
<rect class="k" x="1530.2" y="1080.2" width="19.5" height="7.5"/>
<rect class="k" x="1530.2" y="1143.6" width="19.5" height="7.5"/>
<circle cx="1540.2" cy="1115.6" r="28" fill="#fff" stroke="#111" stroke-width="1.8"/>
<text x="1540.2" y="1120.1" font-size="12.5" class="b" text-anchor="middle">M</text>
<path class="l" d="M1549.2,1081.2 H1582.2 V1110.4 M1549.2,1150.6 H1582.2 V1119.5" />
<rect class="k" x="1582.2" y="1102.4" width="19.0" height="8.5"/>
<rect class="k" x="1582.2" y="1119.5" width="19.0" height="8.5"/>
<path class="l" d="M1600.5,1107.3 H1665.5 V1058.8 L1850.6,1061" />
<path class="l" d="M1600.5,1124.8 H1676.3 V1088.5 L1850.6,1093.4" />
<rect class="dd" x="1839.7" y="1051.2" width="54.5" height="118.79999999999995"/>
<path class="l" d="M1868.8,1051.2 V1100" stroke-dasharray="9 4"/>
<circle class="w" cx="1854.6" cy="1061.0" r="3.6"/>
<circle class="w" cx="1882.0" cy="1061.0" r="3.6"/>
<circle class="w" cx="1854.6" cy="1093.4" r="3.6"/>
<circle class="w" cx="1882.0" cy="1093.4" r="3.6"/>
<circle class="w" cx="1854.6" cy="1127.1" r="3.6"/>
<circle class="w" cx="1882.0" cy="1127.1" r="3.6"/>
<circle class="w" cx="1854.6" cy="1160.1" r="3.6"/>
<circle class="w" cx="1882.0" cy="1160.1" r="3.6"/>
<path class="l" d="M1858,1062 L1876,1071 M1868,1055 V1064 M1858,1094.5 L1876,1102.5" />
<path class="l" d="M1885.6,1061 H1923.2 V1078.6 H1963.5 M1885.6,1093.4 L1963.5,1094.3" />
<rect class="k" x="1963.5" y="1074.3" width="21.5" height="8.2"/>
<rect class="k" x="1963.5" y="1089.8" width="21.5" height="9.2"/>
<path class="l" d="M1969.5,1082 V1090 M1978.5,1082 V1090" />
</g>
<g id="exploded">
<g transform="translate(70,920) scale(0.12453)" fill="none" stroke="#111" stroke-width="12.2" stroke-linecap="round" stroke-linejoin="round">
<!-- screw left -->
<circle cx="187" cy="462" r="16" fill="#111"/>
<path d="M205,452 L470,415 M205,470 L300,456" stroke-width="9.8"/>
<path d="M230,458 L290,450" stroke-width="19.5"/>
<!-- gear head body -->
<path d="M250,560 Q330,470 480,430 L545,385 Q580,370 610,395 L735,490 Q780,560 775,700 Q770,780 735,805 L425,905 Q380,915 350,885 L200,745 Q180,715 215,685 Z" fill="#fff"/>
<path d="M250,560 Q300,640 420,640 Q560,630 640,580" />
<path d="M235,640 Q300,700 500,695" stroke-width="9.8"/>
<path d="M330,740 L440,760" stroke-width="17.1"/>
<path d="M215,690 Q260,760 380,840 L420,850 L700,760" stroke-width="9.8"/>
<path d="M480,430 L640,585 M545,390 L700,520 L690,600" stroke-width="9.8"/>
<path d="M425,900 L745,795" stroke-width="31.7"/>
<path d="M590,660 L690,640 L705,750 L610,765 Z" fill="#111"/>
<rect x="612" y="655" width="30" height="35" fill="#fff" stroke-width="6.1"/>
<path d="M640,540 L690,520 L700,600 L650,620 Z M650,620 L660,680" stroke-width="11.0"/>
<!-- stem -->
<path d="M380,905 L392,1015 M432,905 L440,1010" stroke-width="11.0"/>
<path d="M395,1025 L470,1030 L475,1085 L420,1075" stroke-width="24.4"/>
<path d="M395,1095 H465 L470,1150 L455,1180 H405 L392,1150 Z M395,1120 L468,1125" stroke-width="8.5"/>
<path d="M200,1172 L390,1145" stroke-width="8.5"/>
<!-- flange disc -->
<ellipse cx="430" cy="1280" rx="170" ry="66" fill="#111"/>
<ellipse cx="430" cy="1262" rx="120" ry="32" fill="#fff" stroke="none"/>
<ellipse cx="430" cy="1265" rx="70" ry="18" fill="#111" stroke="none"/>
<path d="M330,1258 L350,1275 M505,1255 L525,1272 M400,1240 H460" stroke-width="14.6"/>
<path d="M270,1300 Q430,1390 590,1300" stroke-width="9.8"/>
<path d="M370,1345 L380,1446 M490,1345 L480,1446 M400,1400 H460" stroke-width="12.2"/>
<!-- nut -->
<ellipse cx="957" cy="560" rx="66" ry="56" fill="#222"/>
<path d="M925,540 L990,535 M925,580 L985,578" stroke="#bbb" stroke-width="11.0"/>
<path d="M800,582 L895,565 M1025,548 L1300,498" stroke-width="7.3"/>
<!-- O-ring 38 -->
<ellipse cx="1170" cy="515" rx="68" ry="133" transform="rotate(-4 1170 515)" stroke-width="12.2"/>
<path d="M1135,172 V350" stroke-width="8.5"/>
<!-- bearing flange -->
<ellipse cx="1432" cy="470" rx="138" ry="225" fill="#fff" stroke-width="18.3" transform="rotate(-6 1432 470)"/>
<path d="M1330,640 Q1420,730 1545,625 Q1585,520 1560,400" stroke-width="36.6"/>
<ellipse cx="1452" cy="462" rx="108" ry="192" stroke-width="9.8" transform="rotate(-6 1452 462)"/>
<ellipse cx="1400" cy="485" rx="92" ry="160" stroke-width="19.5" transform="rotate(-6 1400 485)"/>
<ellipse cx="1372" cy="505" rx="60" ry="118" fill="#111" transform="rotate(-6 1372 505)"/>
<ellipse cx="1388" cy="500" rx="24" ry="70" fill="#fff" stroke-width="9.8" transform="rotate(-6 1388 500)"/>
<path d="M1350,440 L1362,470 M1345,500 L1360,520 M1352,560 L1366,575" stroke="#fff" stroke-width="9.8"/>
<!-- small rings -->
<ellipse cx="1672" cy="440" rx="44" ry="76" fill="#ccc" stroke-width="18.3"/>
<ellipse cx="1680" cy="450" rx="16" ry="34" fill="#fff" stroke-width="9.8"/>
<ellipse cx="1803" cy="410" rx="40" ry="76" fill="#ddd" stroke-width="17.1"/>
<ellipse cx="1808" cy="415" rx="12" ry="30" fill="#fff" stroke-width="8.5"/>
<ellipse cx="1935" cy="385" rx="46" ry="95" fill="#fff" stroke-width="23.2"/>
<ellipse cx="1940" cy="395" rx="20" ry="40" stroke-width="11.0"/>
<path d="M1655,210 V330 M1795,60 V330 M1910,175 V250" stroke-width="8.5"/>
<ellipse cx="2090" cy="360" rx="60" ry="110" stroke-width="24.4"/>
<!-- handle -->
<circle cx="940" cy="860" r="100" fill="#fff" stroke-width="9.8"/>
<circle cx="860" cy="980" r="100" fill="#fff" stroke-width="9.8"/>
<path d="M760,810 L830,870" stroke-width="9.8"/>
<path d="M930,878 L1330,1165 L1210,1295 L862,1000 Q840,930 870,900 Q900,870 930,878 Z" fill="#fff" stroke-width="12.2"/>
<path d="M935,905 L1240,1125 M925,935 L1225,1155 M915,965 L1210,1190 M900,990 L1200,1225" stroke-width="9.8"/>
<path d="M880,1005 L1205,1280" stroke-width="31.7"/>
<ellipse cx="1272" cy="1228" rx="66" ry="74" fill="#fff" stroke-width="12.2" transform="rotate(-20 1272 1228)"/>
<ellipse cx="1285" cy="1232" rx="30" ry="36" stroke-width="11.0"/>
<path d="M1215,1150 L1195,1270" stroke-width="9.8"/>
<!-- frame -->
<path d="M1360,1446 V882 L2088,722" stroke-width="8.5" stroke-dasharray="260 20"/>
<path d="M1795,1330 L2088,1255" stroke-width="19.5" stroke-dasharray="120 14"/>
</g>

<g transform="translate(320,840) scale(0.16284)" fill="none" stroke="#111" stroke-width="13.4" stroke-linecap="round" stroke-linejoin="round">
<defs>
<g id="gearB">
<path d="M-40,-140 Q-105,-130 -110,0 Q-105,130 -40,140 L60,125 Q105,100 105,-10 Q100,-110 55,-135 Z" fill="#111" stroke-width="9.8"/>
<path d="M-70,-80 L-50,-60 M-80,-20 L-55,-30 L-50,10 M-75,50 L-50,40 M-60,90 L-40,75 M-20,-100 V100" stroke="#fff" stroke-width="11.0"/>
<path d="M20,-105 H75 M25,-70 H85 M25,-30 H90 M25,10 H90 M25,50 H85 M20,90 H70" stroke="#fff" stroke-width="12.2"/>
</g>
<g id="armB">
<path d="M-240,-85 L-170,-108 L180,-142 L260,-120 L300,-90 L260,-32 L-190,88 L-210,82 Q-285,40 -280,-5 Q-275,-60 -240,-85 Z" fill="#fff" stroke-width="12.2"/>
<path d="M-195,80 L258,-38 L296,-88" stroke-width="36.6"/>
<path d="M-175,-105 Q-215,-10 -165,75" stroke-width="11.0"/>
<path d="M-165,-105 L130,-135 L140,-10 L-150,62 Z" fill="#111" stroke-width="7.3"/>
<path d="M-140,-80 L120,-112 M-140,-48 L125,-84 M-140,-14 L128,-54 M-140,22 L130,-28" stroke="#fff" stroke-width="13.4"/>
<path d="M150,-136 L160,-14 M205,-140 L215,-30" stroke-width="9.8"/>
<rect x="168" y="-112" width="32" height="52" fill="#fff" stroke-width="8.5" transform="rotate(-8 184 -86)"/>
</g>
</defs>
<!-- ring 46 -->
<ellipse cx="75" cy="755" rx="52" ry="88" stroke-width="22.0"/>
<ellipse cx="80" cy="762" rx="26" ry="55" stroke-width="11.0"/>
<path d="M60,760 H100 M80,720 V800" stroke-width="7.3"/>
<path d="M65,510 V640" stroke-width="9.8"/>
<!-- bracket -->
<path d="M155,745 L160,330 Q165,275 195,270" stroke-width="11.0"/>
<path d="M185,275 L220,270 L222,325 L195,322 Z" fill="#111"/>
<!-- top bearing -->
<ellipse cx="305" cy="280" rx="52" ry="80" fill="#111"/>
<path d="M290,250 Q280,285 295,320" stroke="#fff" stroke-width="17.1"/>
<!-- ring 5 top -->
<ellipse cx="425" cy="265" rx="40" ry="78" stroke-width="18.3"/>
<path d="M395,270 H455" stroke-width="7.3"/>
<path d="M430,372 V440 M430,560 V608" stroke-width="9.8"/>
<ellipse cx="525" cy="255" rx="26" ry="48" stroke-width="15.9"/>
<!-- gears -->
<use href="#gearB" x="690" y="235"/>
<use href="#gearB" x="700" y="655"/>
<!-- shafts -->
<path d="M820,215 L930,190" stroke-width="39.0" stroke-linecap="butt"/>
<path d="M930,178 L1030,160 L1035,195 L935,212 Z" fill="#fff" stroke-width="11.0"/>
<path d="M835,632 L960,605" stroke-width="26.8" stroke-linecap="butt"/>
<path d="M880,612 L950,598 L955,618 L885,632 Z" fill="#fff" stroke-width="8.5"/>
<path d="M955,595 L1050,575 L1055,610 L960,628 Z" fill="#fff" stroke-width="11.0"/>
<!-- armatures -->
<use href="#armB" x="1300" y="180"/>
<use href="#armB" x="1320" y="580"/>
<!-- bracket right -->
<path d="M1600,90 H1645 L1650,480 H1620" stroke-width="11.0"/>
<!-- bottom row rings -->
<ellipse cx="235" cy="725" rx="48" ry="70" stroke-width="20.7"/>
<ellipse cx="245" cy="730" rx="18" ry="38" stroke-width="11.0"/>
<path d="M300,720 L420,705 M520,686 L570,680" stroke-width="8.5"/>
<ellipse cx="462" cy="697" rx="38" ry="78" stroke-width="18.3"/>
<path d="M435,700 H490" stroke-width="7.3"/>
<!-- right rings -->
<ellipse cx="1722" cy="472" rx="38" ry="64" stroke-width="18.3"/>
<ellipse cx="1728" cy="478" rx="14" ry="30" stroke-width="9.8"/>
<ellipse cx="1818" cy="465" rx="36" ry="56" fill="#111"/>
<ellipse cx="1812" cy="465" rx="10" ry="24" fill="#fff" stroke="none"/>
<ellipse cx="1926" cy="440" rx="40" ry="68" stroke-width="20.7"/>
<ellipse cx="1930" cy="445" rx="16" ry="36" stroke-width="9.8"/>
<path d="M1915,280 V350" stroke-width="9.8"/>
<!-- frame -->
<path d="M1990,430 L1995,650 L615,942" stroke-width="11.0"/>
<path d="M250,1010 L420,975" stroke-width="11.0"/>
<path d="M470,790 L510,985 M445,915 L530,903" stroke-width="9.8"/>
</g>

<g transform="translate(230,1040) scale(0.19634)" fill="none" stroke="#111" stroke-width="12.2" stroke-linecap="round" stroke-linejoin="round">
<!-- frame lines -->
<path d="M48,-60 L42,685" stroke-width="9.8"/>
<!-- motor housing left -->
<path d="M70,525 L540,382 L612,415 Q660,440 660,520 V640 L300,745 Q285,785 240,775 L150,845 Q70,800 65,690 Q62,600 70,525 Z" fill="#fff"/>
<path d="M200,548 L612,415 M135,505 L200,548" stroke-width="9.8"/>
<path d="M212,548 L606,438" stroke-width="20.7"/>
<path d="M246,676 L427,640" stroke-width="36.6" stroke-linecap="butt"/>
<path d="M400,722 L620,668" stroke-width="31.7"/>
<path d="M610,540 L620,640" stroke-width="14.6"/>
<rect x="533" y="380" width="28" height="26" fill="#111" stroke="none"/>
<ellipse cx="152" cy="690" rx="84" ry="155" fill="#111" transform="rotate(-8 152 690)"/>
<path d="M95,600 h40 v50 h-40 z M165,610 h38 v48 h-38 z M100,690 h36 v48 h-36 z M170,700 h36 v46 h-36 z M120,770 h34 v40 h-34 z M185,775 h30 v36 h-30 z" fill="#fff" stroke="none"/>
<path d="M405,690 V1012" stroke-width="11.0"/>
<path d="M435,775 L605,745 L610,790 L440,822 Z" stroke-width="11.0" stroke-dasharray="22 8"/>
<path d="M245,985 L440,940 L445,960 L275,1000 Z" stroke-width="7.3"/>
<!-- label above -->
<path d="M322,240 L580,176" stroke-width="15.9" stroke-dasharray="40 6"/>
<path d="M650,165 V135 L720,128 M720,135 L850,118 V360 L880,355" stroke-width="9.8"/>
<!-- washer -->
<ellipse cx="760" cy="505" rx="94" ry="150" fill="#fff" transform="rotate(-8 760 505)"/>
<ellipse cx="756" cy="510" rx="50" ry="95" transform="rotate(-8 756 510)"/>
<path d="M700,522 L870,470" stroke-width="7.3"/>
<path d="M665,690 L668,740 L800,710" stroke-width="11.0" stroke-dasharray="60 12"/>
<circle cx="846" cy="690" r="27" stroke-width="11.0"/>
<path d="M830,690 H862 M846,674 V706" stroke-width="11.0"/>
<!-- field coil -->
<path d="M935,335 L1100,290 Q1150,288 1175,330 Q1200,400 1182,512 L965,588 Q880,560 862,460 Q870,350 935,335 Z" fill="#fff"/>
<path d="M1005,565 L1185,505" stroke-width="53.7" stroke-linecap="butt"/>
<ellipse cx="935" cy="460" rx="74" ry="125" stroke-width="14.6" transform="rotate(-8 935 460)"/>
<ellipse cx="940" cy="462" rx="44" ry="88" fill="#111" transform="rotate(-8 940 462)"/>
<ellipse cx="935" cy="462" rx="20" ry="55" fill="#fff" stroke="none" transform="rotate(-8 935 462)"/>
<path d="M1010,432 L1180,388" stroke-width="9.8"/>
<path d="M1198,250 H1262 V312 H1198 Z M1198,250 L1262,312 M1262,250 L1198,312" stroke-width="9.8"/>
<!-- shaft lines -->
<path d="M1195,372 L1400,332 M1210,432 L1440,400 M1195,395 L1330,368" stroke-width="9.8"/>
<path d="M1332,340 L1398,328 L1402,378 L1336,392 Z" stroke-width="9.8"/>
<path d="M1405,335 L1500,312" stroke-width="7.3"/>
<!-- motor tube right -->
<path d="M1550,170 L1900,75 Q1990,100 2005,200 Q2010,300 1880,372 L1570,432 Q1490,400 1486,300 Q1492,190 1550,170 Z" fill="#fff"/>
<path d="M1620,342 L1992,250 Q1985,310 1880,385 L1605,428 Z" fill="#111"/>
<path d="M1880,380 L1930,395 L1960,340 Z" fill="#111" stroke-width="7.3"/>
<ellipse cx="1555" cy="300" rx="68" ry="130" stroke-width="13.4" transform="rotate(-8 1555 300)"/>
<path d="M1495,250 Q1500,190 1550,175 Q1600,185 1615,250 Q1560,230 1495,250 Z" fill="#111"/>
<path d="M1490,300 L1610,268" stroke-width="7.3"/>
<path d="M1930,100 Q1985,150 1975,300" stroke-width="11.0"/>
<path d="M1832,55 L1925,40 L1930,95 L1838,110 Z" fill="#fff" stroke-width="14.6"/>
<path d="M1840,60 L1960,68" stroke-width="19.5"/>
<!-- brush parts below -->
<path d="M1875,385 V435 M1875,545 V575 M1875,700 V730" stroke-width="8.5"/>
<rect x="1846" y="435" width="58" height="110" rx="14" stroke-width="15.9"/>
<path d="M1875,450 V530" stroke-width="7.3"/>
<path d="M1928,488 H1990 M1975,476 L2000,492 L1975,508" stroke-width="11.0"/>
<path d="M1875,580 V700" stroke-width="48.8" stroke-linecap="butt" stroke-dasharray="26 10"/>
<ellipse cx="1875" cy="750" rx="34" ry="20" stroke-width="15.9"/>
</g>

<g transform="translate(570,870) scale(0.16072)" fill="none" stroke="#111" stroke-width="12.2" stroke-linecap="round" stroke-linejoin="round">
<!-- brush cap, spring, holder (top) -->
<ellipse cx="176" cy="672" rx="44" ry="28" fill="#111"/>
<path d="M150,665 H200" stroke="#999" stroke-width="9.8"/>
<path d="M175,705 V740 M175,920 V940 M175,1075 V1105" stroke-width="8.5"/>
<path d="M172,750 V912" stroke-width="56.1" stroke-linecap="butt" stroke-dasharray="36 10"/>
<rect x="142" y="940" width="66" height="132" rx="10" stroke-width="17.1"/>
<path d="M175,955 V1060" stroke-width="9.8"/>
<path d="M242,950 L310,945 Q325,960 305,972 L285,970" stroke-width="12.2"/>
<!-- top plate -->
<path d="M412,890 L425,662 Q440,625 478,636 Q520,660 522,705 L535,985" fill="#fff" stroke-width="13.4"/>
<ellipse cx="475" cy="712" rx="36" ry="16" transform="rotate(25 475 712)" stroke-width="12.2"/>
<path d="M380,882 L520,992 L545,975 L402,868 Z" fill="#fff" stroke-width="14.6"/>
<path d="M520,900 L545,975" stroke-width="22.0"/>
<path d="M415,860 L430,865" stroke-width="19.5"/>
<path d="M485,800 L1060,655 M1090,648 L1200,625" stroke-width="9.8"/>
<circle cx="1215" cy="624" r="11" fill="#111" stroke="none"/>
<path d="M540,850 L705,812 M540,912 L805,852" stroke-width="12.2"/>
<path d="M700,805 L715,818 M800,845 L815,858" stroke-width="12.2"/>
<!-- clip -->
<path d="M555,690 Q560,650 600,645 Q640,650 640,700 L690,690 V660 M575,700 L640,715 M600,660 Q615,680 600,700" stroke-width="14.6"/>
<!-- wire -->
<path d="M910,160 Q850,420 742,622" stroke-width="9.8"/>
<path d="M680,625 L700,640 M720,650 L800,665" stroke-width="26.8"/>
<!-- bracket top -->
<path d="M745,640 L800,622 Q850,560 930,528 L1020,520 Q1050,530 1055,580 L1062,690 Q1060,730 1040,745 L1030,870 L1050,888 L1100,852 L1130,782 L1300,725" stroke-width="13.4"/>
<path d="M800,660 Q860,590 935,555 L1010,548 M1005,745 L1012,860 L1045,870 L1085,835 L1115,765 L1290,750" stroke-width="11.0"/>
<path d="M940,595 Q975,590 985,640 M1020,570 L1045,585 M1015,625 H1050" stroke-width="13.4"/>
<path d="M1160,752 L1290,735" stroke-width="26.8" stroke-dasharray="10 8" stroke-linecap="butt"/>
<!-- lower bracket -->
<path d="M1020,1180 L1020,1000 Q1030,950 1075,945 Q1105,950 1108,1000 L1115,1230 L1150,1238 L1320,1165" stroke-width="14.6"/>
<path d="M1045,1010 Q1055,975 1080,985 L1085,1200 M1140,1215 L1310,1185" stroke-width="11.0"/>
<ellipse cx="1042" cy="1150" rx="24" ry="68" stroke-width="11.0"/>
<path d="M1030,1030 L1060,1040 L1055,1080 M960,1030 L975,1070 L1000,1075" stroke-width="14.6"/>
<path d="M1170,1200 L1310,1170" stroke-width="24.4" stroke-dasharray="10 8" stroke-linecap="butt"/>
<path d="M1130,1085 L1190,1070 M1255,1053 L1555,975 V1493" stroke-width="9.8"/>
<path d="M1195,1068 L1245,1057" stroke-width="19.5"/>
<!-- lower oval plate -->
<path d="M440,1130 Q470,1085 510,1100 Q550,1130 550,1200 L550,1400 Q540,1445 510,1440 Q470,1430 450,1380 Q425,1250 440,1130 Z" fill="#fff" stroke-width="13.4"/>
<path d="M475,1375 L515,1390 L520,1410 L480,1395 Z M440,1180 L452,1185" stroke-width="11.0"/>
<path d="M520,1240 L1020,1120 M560,1372 L640,1348" stroke-width="9.8"/>
<!-- clip bottom + connector -->
<path d="M625,1350 Q625,1305 670,1300 Q705,1305 705,1350 L755,1345 V1320 M640,1365 L705,1385 M665,1315 Q680,1335 665,1355" stroke-width="14.6"/>
<path d="M745,1290 L790,1285 M800,1330 L865,1335" stroke-width="17.1"/>
<path d="M870,1290 L1040,1250 L1060,1200" stroke-width="14.6" stroke-dasharray="40 10"/>
</g>

<g transform="translate(60,1080) scale(0.22764)" fill="none" stroke="#111" stroke-width="9.8" stroke-linecap="round" stroke-linejoin="round">
<path d="M258,45 L262,100 M302,45 L298,100 M262,100 H298" stroke-width="11.0"/>
<path d="M276,100 V150 M276,235 V250 M276,290 V320 M276,360 V375 M276,440 V490 M276,535 V575 M272,620 V1060" stroke-width="7.3"/>
<ellipse cx="280" cy="190" rx="76" ry="40" fill="#111"/>
<ellipse cx="280" cy="180" rx="50" ry="18" fill="#fff" stroke="none"/>
<ellipse cx="280" cy="184" rx="26" ry="8" fill="#111" stroke="none"/>
<path d="M215,210 Q280,245 345,210" stroke="#fff" stroke-width="6.1"/>
<ellipse cx="278" cy="270" rx="40" ry="24" stroke-width="14.6"/>
<path d="M255,262 L300,280" stroke-width="12.2"/>
<path d="M160,286 L236,276" stroke-width="7.3"/>
<ellipse cx="280" cy="340" rx="46" ry="22" stroke-width="15.9"/>
<ellipse cx="278" cy="395" rx="54" ry="22" stroke-width="12.2"/>
<ellipse cx="278" cy="398" rx="30" ry="10" stroke-width="8.5"/>
<path d="M224,398 V430 Q278,465 332,430 V398" stroke-width="12.2"/>
<path d="M336,245 L338,470 M336,580 V660" stroke-width="8.5"/>
<ellipse cx="280" cy="510" rx="54" ry="25" stroke-width="13.4"/>
<ellipse cx="280" cy="510" rx="34" ry="13" stroke-width="8.5"/>
<ellipse cx="275" cy="596" rx="38" ry="22" stroke-width="15.9"/>
<path d="M255,592 L296,600" stroke-width="9.8"/>
<path d="M160,606 L232,598" stroke-width="7.3"/>
<path d="M150,705 L180,680 Q270,655 350,685 L390,715 L375,735 Q280,790 190,745 Z" stroke-width="9.8"/>
<path d="M155,700 L165,720 M378,715 L382,735" stroke-width="8.5"/>
<path d="M140,800 L265,770 L392,822 L386,872 L282,928 L178,892 Z" fill="#fff" stroke-width="12.2"/>
<path d="M165,810 L265,790 L365,830 L280,880 Z" fill="#111" stroke-width="7.3"/>
<path d="M250,800 H320 V850 H250 Z" fill="#fff" stroke-width="6.1"/>
<path d="M178,892 L282,928 L386,872" stroke-width="19.5"/>
<path d="M185,900 Q190,940 240,955" stroke-width="9.8"/>
<path d="M240,940 L244,1040 M326,935 L324,1040" stroke-width="11.0"/>
<path d="M244,1020 V1050 M324,1020 V1050" stroke-width="19.5"/>
<path d="M262,1070 L255,1220 M280,1070 L288,1220" stroke-width="9.8"/>
<path d="M242,1218 H296 V1262 H242 Z M252,1265 L256,1340 M286,1265 L282,1340" stroke-width="11.0"/>
<path d="M235,1375 L255,1355 H285 L305,1375 L300,1400 L270,1412 L240,1400 Z" stroke-width="13.4"/>
<path d="M250,1380 H290" stroke-width="7.3"/>
</g>

<g transform="translate(220,1190) scale(0.14847)" fill="none" stroke="#111" stroke-width="12.2" stroke-linecap="round" stroke-linejoin="round">
<!-- frame -->
<path d="M110,680 L330,625 M460,592 L780,512" stroke-width="11.0"/>
<path d="M110,680 V1050 L240,1016" stroke-width="9.8"/>
<!-- part 71 -->
<path d="M1325,546 L1540,496" stroke-width="8.5"/>
<path d="M1592,430 Q1548,480 1546,600 L1540,842 Q1560,890 1622,882" stroke-width="17.1"/>
<path d="M1575,470 L1568,830" stroke-width="19.5"/>
<path d="M1646,550 L1640,890 L1650,935 M1686,548 L1682,890 L1660,935 M1646,550 H1686" stroke-width="12.2"/>
<path d="M1662,700 V930" stroke-width="17.1"/>
<!-- bolt -->
<path d="M1000,775 L1115,752 L1125,835 L1010,862 Q980,820 1000,775 Z" fill="#fff" stroke-width="12.2"/>
<path d="M1015,790 L1110,770 M1015,815 L1112,795 M1018,840 L1115,818" stroke-width="14.6"/>
<path d="M1120,772 L1420,692 Q1445,700 1440,722 L1128,822" fill="#fff" stroke-width="11.0"/>
<path d="M1128,822 L1440,722" stroke-width="22.0"/>
<!-- small ball -->
<circle cx="886" cy="836" r="50" stroke-width="8.5" stroke-dasharray="22 14"/>
<rect x="905" y="850" width="40" height="44" fill="#111" stroke="none"/>
<path d="M620,906 L790,870 M1442,700 L1540,680 M1690,640 L1840,606" stroke-width="8.5"/>
<!-- switch block -->
<path d="M380,700 L385,900 M436,700 L432,900" stroke-width="11.0"/>
<path d="M355,675 Q360,700 380,700 M420,670 H470 M430,660 V710" stroke-width="12.2"/>
<path d="M385,780 H430 M388,830 H430" stroke-width="8.5"/>
<path d="M290,930 L300,1050 L380,1078 M290,930 L380,915 L440,925" stroke-width="12.2"/>
<path d="M380,900 H440 V1078 H380 Z" stroke-width="14.6"/>
<path d="M400,920 V1070" stroke-width="22.0"/>
<path d="M455,940 H560 V1060 H455 Z" fill="#111" stroke-width="7.3"/>
<path d="M475,960 H505 V1040 H475 Z M520,960 H545 V1040 H520 Z" fill="#fff" stroke="none"/>
<ellipse cx="585" cy="925" rx="34" ry="50" fill="#111"/>
<path d="M575,900 Q590,925 575,950" stroke="#fff" stroke-width="9.8"/>
<circle cx="235" cy="826" r="24" stroke-width="11.0"/>
<path d="M222,826 H248 M235,813 V839" stroke-width="9.8"/>
<path d="M180,880 L270,922" stroke-width="17.1" stroke-dasharray="30 12"/>
<path d="M232,852 L226,872" stroke-width="8.5"/>
<path d="M640,912 L850,1022" stroke-width="8.5" stroke-dasharray="40 18"/>
<path d="M722,968 Q750,962 745,990 L735,1000 M730,1025 V1045" stroke-width="12.2"/>
<path d="M560,1075 L640,1115" stroke-width="15.9"/>
</g>

<g transform="translate(480,1180) scale(0.16762)" fill="none" stroke="#111" stroke-width="12.2" stroke-linecap="round" stroke-linejoin="round">
<!-- axis through handle -->
<path d="M55,482 L100,478 M0,615 L80,598 M905,375 L960,362 M1020,345 L1130,322" stroke-width="8.5"/>
<!-- handle arm -->
<path d="M380,425 L440,385 L850,365 L905,385 L910,495 L860,505 L520,575 Q440,600 400,660 L330,700 L300,560 Z" fill="#fff" stroke-width="12.2"/>
<path d="M800,410 L905,390 L908,492 L860,502 L820,470 Z" fill="#111" stroke-width="7.3"/>
<path d="M425,440 L800,400 M440,465 L560,452" stroke-width="9.8"/>
<path d="M450,395 V440 M440,388 L845,362" stroke-width="9.8"/>
<path d="M480,465 L540,455" stroke-width="31.7"/>
<!-- handle head (black mass) -->
<path d="M85,455 L150,420 L330,470 L420,530 L405,600 L330,705 L225,785 L150,760 L130,705 L75,640 Z" fill="#111" stroke-width="9.8"/>
<path d="M130,470 h45 v130 h-45 z M190,470 l30,10 v130 l-30,-10 z" fill="#fff" stroke="none"/>
<path d="M150,480 V590 M205,490 V600" stroke="#111" stroke-width="14.6"/>
<path d="M230,520 L300,545 L290,560 L225,540 Z M310,500 L350,520 L340,535 Z" fill="#fff" stroke="none"/>
<path d="M100,640 L200,615 L215,660 L120,690 Z M160,730 L250,715 L262,745 L175,760 Z" fill="#fff" stroke="none"/>
<!-- knob with wire -->
<circle cx="186" cy="340" r="26" fill="#111"/>
<path d="M205,362 Q250,400 370,420" stroke-width="9.8"/>
<!-- part 76 -->
<path d="M400,250 Q405,225 440,225 L475,235 Q480,265 450,275 L440,310 M420,320 Q440,300 470,320 Q460,350 425,345 Z" stroke-width="13.4"/>
<path d="M478,245 L535,226 M515,215 L540,225 L525,245" stroke-width="12.2"/>
<path d="M500,320 L630,291" stroke-width="8.5"/>
<path d="M370,355 L365,400" stroke-width="11.0"/>
<!-- rod -->
<path d="M560,352 L750,322" stroke-width="15.9"/>
<rect x="757" y="300" width="26" height="28" stroke-width="12.2"/>
<!-- hook bracket -->
<path d="M960,570 V268 L1020,262 L1110,240 L1125,300 L1170,306 L1185,290 M1020,275 V570" stroke-width="13.4"/>
<ellipse cx="992" cy="582" rx="48" ry="20" stroke-width="14.6"/>
<path d="M1185,284 L1790,120 M1190,300 L1795,136" stroke-width="9.8"/>
<!-- cable -->
<path d="M1790,128 Q1890,120 1880,180 Q1860,230 1750,232 Q1620,240 1510,288" stroke-width="18.3"/>
<path d="M1450,300 Q1340,380 1320,470 Q1320,560 1420,562 Q1560,540 1790,345" stroke-width="18.3"/>
<!-- plug -->
<path d="M1790,300 L1870,262 L1905,275 L1905,345 L1830,395 L1795,380 Z" fill="#fff" stroke-width="13.4"/>
<ellipse cx="1815" cy="340" rx="24" ry="44" stroke-width="12.2"/>
<path d="M1850,290 V370 M1875,280 V355" stroke-width="14.6"/>
<path d="M1905,240 V330" stroke-width="9.8"/>
<path d="M1700,395 L1790,340" stroke-width="9.8"/>
</g>
<path d="M359.6,1259.5 L818.5,1137.7 V1110" fill="none" stroke="#111" stroke-width="1.7" stroke-linecap="round"/>

</g>
<g id="pos812">
<g transform="translate(1080,900) scale(0.1875)" fill="none" stroke="#111" stroke-width="11.2" stroke-linecap="round" stroke-linejoin="round">
<!-- elbow tube -->
<path d="M668,420 V290 Q668,215 740,208 L812,198 M745,420 V300 Q745,275 770,270 L812,262" stroke-width="12.5"/>
<path d="M660,422 H752 V445 H660 Z M680,447 L685,498 L705,520 L728,498 L738,447" stroke-width="12.5"/>
<path d="M815,150 L910,140" stroke-width="45.0"/>
<path d="M862,165 V195" stroke-width="15.0"/>
<path d="M815,200 L890,192 L885,270 L850,285 L830,265 L812,262" stroke-width="13.8"/>
<path d="M892,215 L925,210" stroke-width="12.5"/>
<ellipse cx="952" cy="214" rx="34" ry="32" fill="#222" stroke-width="12.5"/>
<path d="M940,200 Q950,215 940,230" stroke="#fff" stroke-width="8.8"/>
<!-- long tube -->
<path d="M693,520 L690,1165 M722,520 L718,1165" stroke-width="10.0"/>
<path d="M705,520 V620" stroke-width="17.5"/>
<!-- small pin -->
<path d="M527,1022 H558 M532,1030 L538,1060 M553,1030 L548,1060 M542,1060 V1170 M515,1178 H565 M565,1186 L640,1196" stroke-width="12.5"/>
<!-- collar nut -->
<path d="M600,1230 V1330 Q700,1400 805,1320 V1225" fill="#fff" stroke-width="15.0"/>
<ellipse cx="702" cy="1225" rx="102" ry="46" fill="#fff" stroke-width="15.0"/>
<ellipse cx="700" cy="1205" rx="48" ry="22" stroke-width="12.5"/>
<path d="M620,1262 Q700,1300 780,1255" stroke-width="10.0"/>
<path d="M770,1250 V1340 M800,1240 V1320" stroke-width="20.0"/>
<path d="M628,1300 V1350" stroke-width="17.5"/>
</g>
<g transform="translate(1080,1160) scale(0.1875)" fill="none" stroke="#111" stroke-width="11.2" stroke-linecap="round" stroke-linejoin="round">
<!-- bracket and leaders -->
<path d="M180,40 L105,42 V1310 H200 M105,975 H170 M105,1130 H195 M20,685 H105" stroke-width="10.0"/>
<path d="M340,42 H615 M330,975 H545 M545,920 V1030 M545,920 H640 M545,1030 H640 M340,1130 H640" stroke-width="10.0"/>
<path d="M340,1310 H640" stroke-width="10.0" stroke-dasharray="50 10 10 10"/>
<!-- washer 39 -->
<ellipse cx="695" cy="40" rx="76" ry="30" fill="#fff" stroke-width="17.5"/>
<ellipse cx="695" cy="32" rx="38" ry="12" stroke-width="11.2"/>
<!-- stem -->
<path d="M625,72 V240 M700,72 V215" stroke-width="11.2"/>
<!-- screw -->
<path d="M388,208 H425 V252 H388 Z M388,230 H425 M425,220 L520,202 M425,240 L515,222" stroke-width="12.5"/>
<path d="M520,205 L760,165" stroke-width="6.2"/>
<!-- gear head -->
<path d="M440,480 Q460,380 520,290 Q600,225 770,200 L775,150 Q800,105 880,105 L1040,220 Q1090,300 1092,480 Q1080,560 1040,620 L672,722 Q630,740 610,720 L440,560 Q415,510 440,480 Z" fill="#fff" stroke-width="13.8"/>
<path d="M672,722 L1040,620 Q1078,560 1085,505 L1040,520 Q1030,570 1000,600 L680,695 Z" fill="#111" stroke-width="7.5"/>
<path d="M455,500 L470,545 L630,690 L672,695 M445,485 Q480,600 660,690" stroke-width="10.0"/>
<path d="M470,400 Q560,470 800,480 M520,300 Q600,380 940,400 M520,290 Q560,330 640,350" stroke-width="10.0"/>
<ellipse cx="690" cy="262" rx="100" ry="52" stroke-width="12.5"/>
<ellipse cx="690" cy="250" rx="62" ry="30" fill="#333" stroke-width="11.2"/>
<ellipse cx="690" cy="245" rx="28" ry="12" fill="#fff" stroke-width="7.5"/>
<path d="M780,160 L930,340 L965,430 M810,115 L800,150 L770,200 M880,108 L1000,230 L1020,330 L990,420 L970,430" stroke-width="11.2"/>
<path d="M935,290 L960,270 L990,300 L995,350 L950,360 Z" stroke-width="13.8"/>
<circle cx="925" cy="500" r="68" fill="#fff" stroke-width="12.5"/>
<circle cx="940" cy="505" r="50" fill="#111"/>
<circle cx="945" cy="510" r="16" fill="#888" stroke-width="6.2"/>
<path d="M585,530 Q600,560 690,565 Q700,550 640,540 Z" stroke-width="12.5"/>
<circle cx="632" cy="660" r="10" stroke-width="8.8"/>
<!-- axis and washers -->
<path d="M697,735 V895 M697,955 V990 M697,1050 V1095 M697,1160 V1180 M697,1272 V1285" stroke-width="8.8"/>
<ellipse cx="697" cy="925" rx="54" ry="27" fill="#fff" stroke-width="16.2"/>
<ellipse cx="697" cy="920" rx="22" ry="9" fill="#111" stroke="none"/>
<ellipse cx="697" cy="1020" rx="54" ry="27" fill="#fff" stroke-width="16.2"/>
<ellipse cx="697" cy="1015" rx="22" ry="9" fill="#111" stroke="none"/>
<ellipse cx="697" cy="1125" rx="54" ry="27" fill="#fff" stroke-width="16.2"/>
<ellipse cx="697" cy="1120" rx="22" ry="9" fill="#111" stroke="none"/>
<path d="M642,1195 V1250 Q697,1290 752,1250 V1195" fill="#fff" stroke-width="13.8"/>
<ellipse cx="697" cy="1195" rx="55" ry="20" fill="#111" stroke-width="11.2"/>
<path d="M745,1200 V1250" stroke-width="17.5"/>
<ellipse cx="697" cy="1310" rx="52" ry="23" stroke-width="12.5"/>
</g>

</g>
</g>
</svg>
</body></html>
